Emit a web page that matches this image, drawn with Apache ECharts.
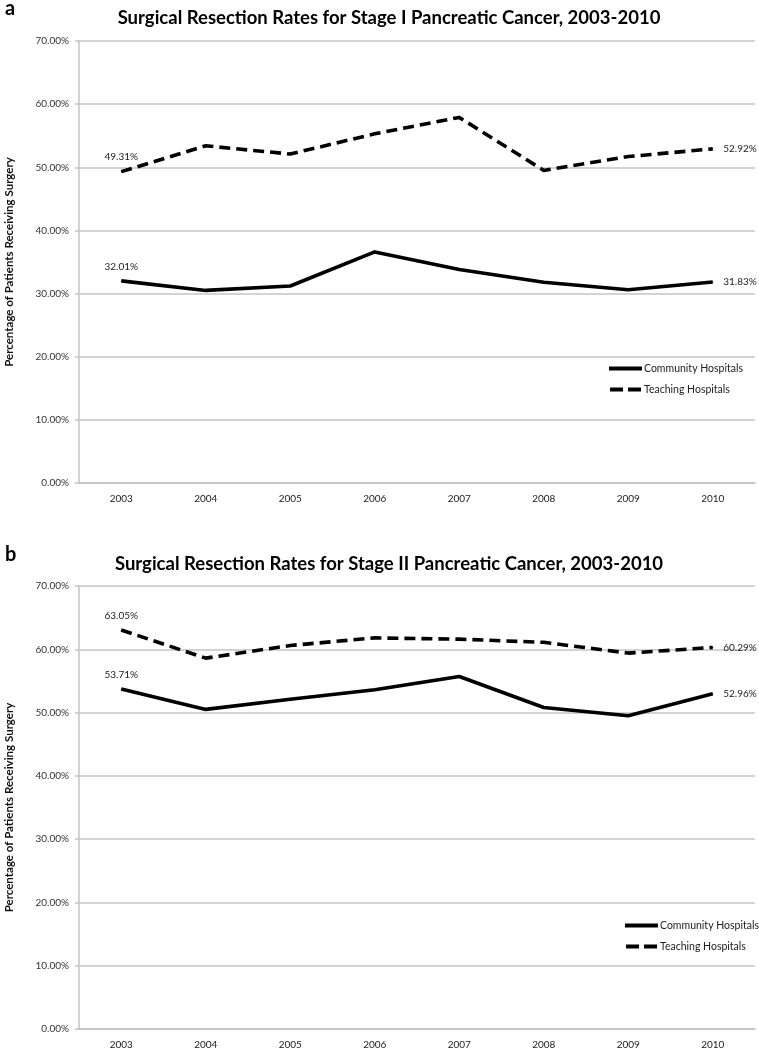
<!DOCTYPE html>
<html>
<head>
<meta charset="utf-8">
<script src="https://cdn.jsdelivr.net/npm/echarts@6/dist/echarts.min.js"></script>
<style>
html,body{margin:0;padding:0;background:#fff;}
#main{width:759px;height:1050px;}
</style>
</head>
<body>
<div id="main"></div>
<script>
var years = ['2003','2004','2005','2006','2007','2008','2009','2010'];
var yTicks = [0, 10, 20, 30, 40, 50, 60, 70];
var stage1Community = [32.01, 30.5, 31.2, 36.6, 33.8, 31.8, 30.6, 31.83];
var stage1Teaching  = [49.31, 53.4, 52.1, 55.3, 57.9, 49.5, 51.7, 52.92];
var stage2Community = [53.71, 50.5, 52.1, 53.6, 55.7, 50.8, 49.5, 52.96];
var stage2Teaching  = [63.05, 58.6, 60.6, 61.8, 61.6, 61.1, 59.4, 60.29];
var seriesNames = ['Community Hospitals', 'Teaching Hospitals'];
var titles = ['Surgical Resection Rates for Stage I Pancreatic Cancer, 2003-2010',
              'Surgical Resection Rates for Stage II Pancreatic Cancer, 2003-2010'];
var panelLetters = ['a', 'b'];
var yAxisTitle = 'Percentage of Patients Receiving Surgery';

var FONT = 'Lato, "Open Sans", sans-serif';
var GRID_C = '#c4c4c4';
var ICON_SOLID = 'path://M0,0h33v4h-33z';
var ICON_DASH = 'path://M0,0h13v4h-13zM18,0h13v4h-13z';

function buildData(arr) {
  var last = arr.length - 1;
  return arr.map(function (v, i) {
    if (i === 0) {
      return {value: v, symbol: 'circle', symbolSize: 1,
        label: {show: true, position: 'top', distance: 9}};
    }
    if (i === last) {
      return {value: v, symbol: 'circle', symbolSize: 1,
        label: {show: true, position: 'right', distance: 10}};
    }
    return v;
  });
}

function mkSeries(name, arr, idx, dashed) {
  return {
    name: name, type: 'line', xAxisIndex: idx, yAxisIndex: idx,
    data: buildData(arr), symbol: 'none', smooth: false,
    lineStyle: {color: '#000', width: 3.6, type: dashed ? [11, 6] : 'solid', cap: 'butt', join: 'round'},
    itemStyle: {color: '#000'},
    label: {color: '#222', fontSize: 10, fontFamily: FONT,
      formatter: function (p) { return p.value.toFixed(2) + '%'; }},
    emphasis: {disabled: true},
    animation: false
  };
}

var grids = [
  {left: 79, width: 676, top: 41, height: 442, outerBoundsMode: 'none', containLabel: false},
  {left: 79, width: 676, top: 586, height: 443, outerBoundsMode: 'none', containLabel: false}
];

function mkX(idx) {
  return {type: 'category', gridIndex: idx, data: years, boundaryGap: true,
    axisLine: {lineStyle: {color: GRID_C, width: 1.5}},
    axisTick: {show: false},
    axisLabel: {color: '#222', fontSize: 10, fontFamily: FONT, margin: 11}};
}
function mkY(idx) {
  return {type: 'value', gridIndex: idx, min: yTicks[0], max: yTicks[yTicks.length - 1], interval: 10,
    name: yAxisTitle, nameLocation: 'middle', nameRotate: 90, nameGap: 64,
    nameTextStyle: {fontSize: 11.5, fontWeight: 'bold', color: '#111', fontFamily: FONT},
    axisLine: {show: true, lineStyle: {color: GRID_C, width: 1.5}},
    axisTick: {show: true, length: 4, lineStyle: {color: GRID_C, width: 1.5}},
    splitLine: {lineStyle: {color: GRID_C, width: 1.5}},
    axisLabel: {color: '#333', fontSize: 10, fontFamily: FONT, margin: 10,
      formatter: function (v) { return v.toFixed(2) + '%'; }}};
}

function mkLegend(left, top) {
  return {
    data: [{name: seriesNames[0], icon: ICON_SOLID}, {name: seriesNames[1], icon: ICON_DASH}],
    orient: 'vertical', left: left, top: top, itemWidth: 33, itemHeight: 4, itemGap: 10, padding: 0,
    textStyle: {fontSize: 10.5, color: '#222', fontFamily: FONT, padding: [0, 0, 0, -3]},
    itemStyle: {color: '#000', borderWidth: 0},
    selectedMode: false
  };
}

var option = {
  backgroundColor: '#fff',
  animation: false,
  title: [
    {text: panelLetters[0], left: 0, top: -6, textStyle: {fontSize: 20, fontWeight: 'bold', color: '#000', fontFamily: FONT}},
    {text: titles[0], left: 384, top: 4, textAlign: 'center', textStyle: {fontSize: 18.5, fontWeight: 'bold', color: '#000', fontFamily: FONT}},
    {text: panelLetters[1], left: 0, top: 540, textStyle: {fontSize: 20, fontWeight: 'bold', color: '#000', fontFamily: FONT}},
    {text: titles[1], left: 384, top: 550, textAlign: 'center', textStyle: {fontSize: 18.5, fontWeight: 'bold', color: '#000', fontFamily: FONT}}
  ],
  legend: [mkLegend(609, 363), mkLegend(625, 920)],
  grid: grids,
  xAxis: [mkX(0), mkX(1)],
  yAxis: [mkY(0), mkY(1)],
  series: [
    mkSeries(seriesNames[0], stage1Community, 0, false),
    mkSeries(seriesNames[1], stage1Teaching, 0, true),
    mkSeries(seriesNames[0], stage2Community, 1, false),
    mkSeries(seriesNames[1], stage2Teaching, 1, true)
  ]
};

var chart = echarts.init(document.getElementById('main'), null, {renderer: 'canvas'});
chart.setOption(option);
</script>
</body>
</html>
